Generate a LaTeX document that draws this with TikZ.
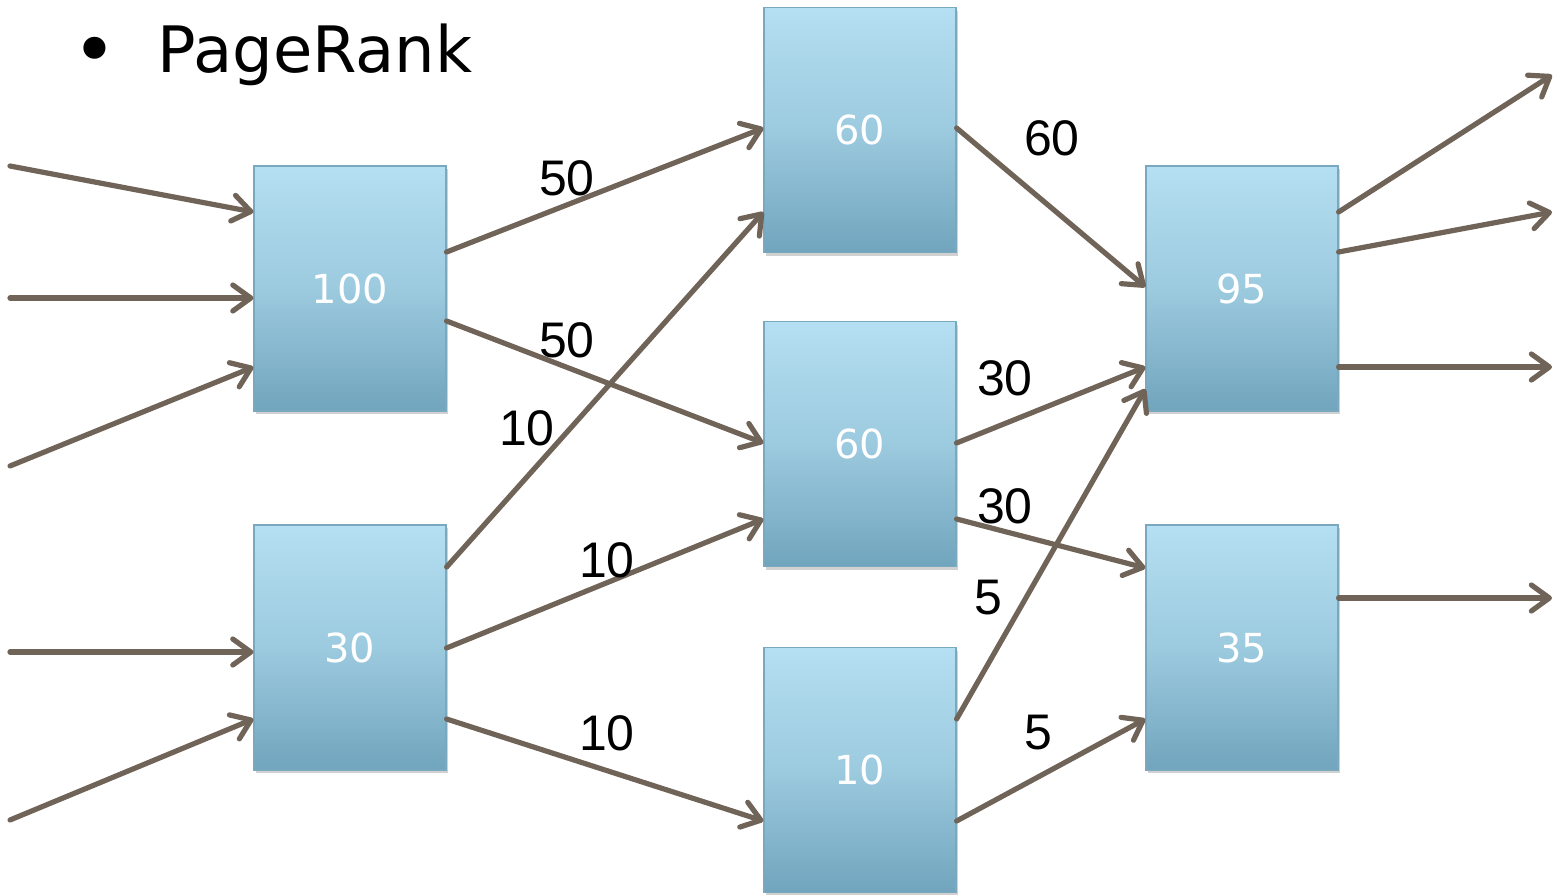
\documentclass[tikz,border=0pt]{standalone}
\usepackage{fontspec}
\setmainfont{DejaVu Sans}
\newfontfamily\arialf{Liberation Sans}
\usetikzlibrary{arrows.meta,calc,shadows}
\definecolor{boxtop}{HTML}{B5DFF2}
\definecolor{boxmid}{HTML}{9CCADF}
\definecolor{boxbot}{HTML}{71A5BD}
\definecolor{boxline}{HTML}{7AA8BF}
\definecolor{edgecol}{HTML}{6F6457}
\tikzset{
  pbox/.style={rectangle, draw=boxline, line width=0.6pt,
    top color=boxtop, bottom color=boxbot, middle color=boxmid,
    minimum width=96pt, minimum height=122.5pt, inner sep=0pt,
    text=white, font=\fontsize{20}{20}\selectfont,
    drop shadow={opacity=0.3, fill=black!60, shadow xshift=1pt, shadow yshift=-1.5pt}},
  link/.style={draw=edgecol, line width=2.6pt, line cap=round, line join=round,
    -{Straight Barb[length=9pt,width=13pt,line width=2.6pt,round]}},
  elab/.style={font=\arialf\fontsize{25}{25}\selectfont, text=black, inner sep=0pt}
}
\begin{document}
\begin{tikzpicture}[x=0.5pt,y=-0.5pt]
\useasboundingbox (0,0) rectangle (1555,895);
% title
\node[inner sep=0pt, font=\fontsize{38}{38}\selectfont] (bul) at (95,57) {•};
\node[anchor=base west, inner sep=0pt, font=\fontsize{32}{32}\selectfont] (title) at (157,72) {PageRank};
% boxes
\node[pbox] (A) at (350,288.5) {100};
\node[pbox] (B) at (350,647.5) {30};
\node[pbox] (C) at (860,130) {60};
\node[pbox] (D) at (860,444) {60};
\node[pbox] (E) at (860,770) {10};
\node[pbox] (F) at (1242,288.5) {95};
\node[pbox] (G) at (1242,647.5) {35};
% free ends
\coordinate (i1) at (10,166);
\coordinate (i2) at (10,298);
\coordinate (i3) at (10,466);
\coordinate (i4) at (10,652);
\coordinate (i5) at (10,820);
\coordinate (o1) at (1552,75);
\coordinate (o2) at (1552,212);
\coordinate (o3) at (1552,367);
\coordinate (o4) at (1552,598);
% incoming
\draw[link] (i1) -- ($(A.west)+(0,-76.5)$);
\draw[link] (i2) -- ($(A.west)+(0,9.5)$);
\draw[link] (i3) -- ($(A.west)+(0,78.5)$);
\draw[link] (i4) -- ($(B.west)+(0,4.5)$);
\draw[link] (i5) -- ($(B.west)+(0,71.5)$);
% middle
\draw[link] ($(A.east)+(0,-36.5)$) -- ($(C.west)+(0,-2)$);
\draw[link] ($(A.east)+(0,32.5)$) -- ($(D.west)+(0,-1)$);
\draw[link] ($(B.east)+(0,-80.5)$) -- ($(C.west)+(0,82)$);
\draw[link] ($(B.east)+(0,0.5)$) -- ($(D.west)+(0,75)$);
\draw[link] ($(B.east)+(0,71.5)$) -- ($(E.west)+(0,51)$);
\draw[link] ($(C.east)+(0,-2)$) -- ($(F.west)+(0,-1.5)$);
\draw[link] ($(D.east)+(0,-1)$) -- ($(F.west)+(0,78.5)$);
\draw[link] ($(D.east)+(0,75)$) -- ($(G.west)+(0,-79.5)$);
\draw[link] ($(E.east)+(0,-51)$) -- ($(F.west)+(0,100.5)$);
\draw[link] ($(E.east)+(0,51)$) -- ($(G.west)+(0,71.5)$);
% outgoing
\draw[link] ($(F.east)+(0,-76.5)$) -- (o1);
\draw[link] ($(F.east)+(0,-36.5)$) -- (o2);
\draw[link] ($(F.east)+(0,78.5)$) -- (o3);
\draw[link] ($(G.east)+(0,-49.5)$) -- (o4);
% labels
\node[elab] (l1) at (567,178) {50};
\node[elab] (l2) at (567,340) {50};
\node[elab] (l3) at (527,428) {10};
\node[elab] (l4) at (607,560) {10};
\node[elab] (l5) at (607,733) {10};
\node[elab] (l6) at (1052,138) {60};
\node[elab] (l7) at (1005,378) {30};
\node[elab] (l8) at (1005,506) {30};
\node[elab] (l9) at (988,598) {5};
\node[elab] (l10) at (1038,733) {5};
\end{tikzpicture}
\end{document}
